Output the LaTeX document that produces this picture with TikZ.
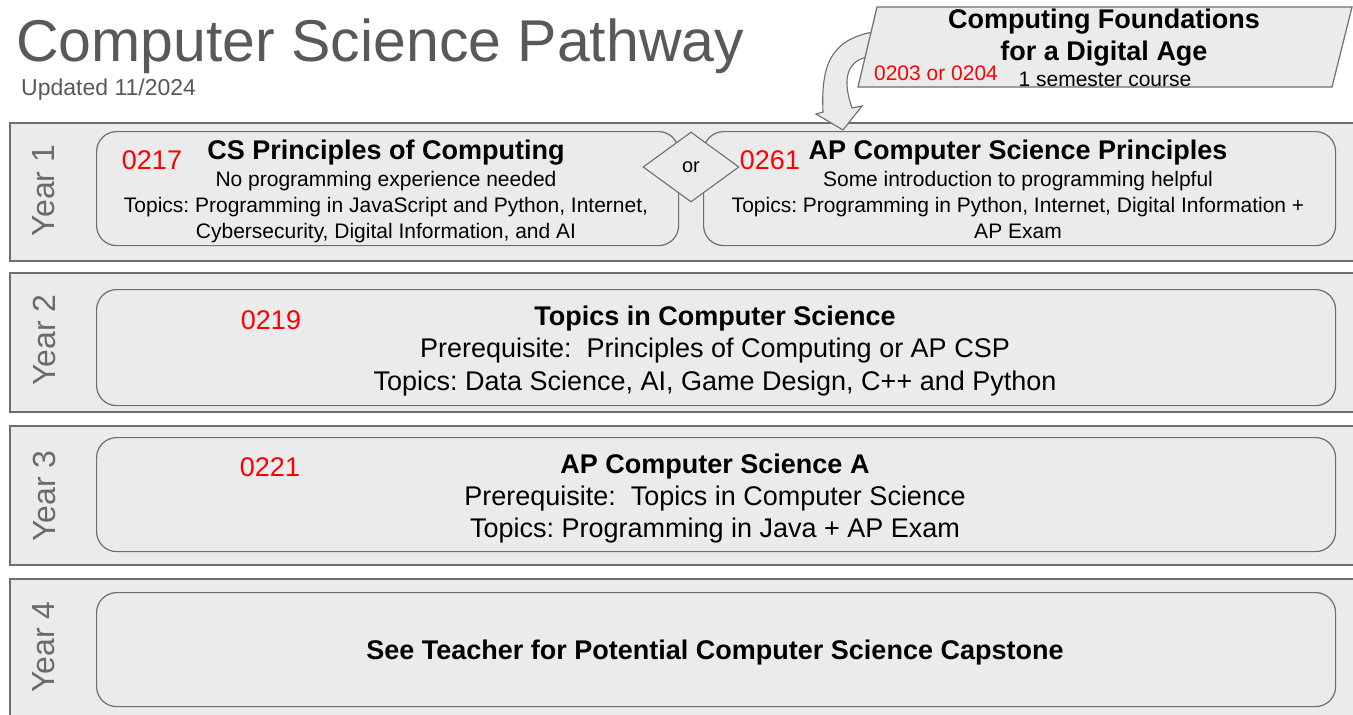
\documentclass[tikz,border=0pt]{standalone}
\usepackage{fontspec}
\setmainfont{Liberation Sans}
\usetikzlibrary{shapes.geometric}
\definecolor{boxfill}{HTML}{EBEBEB}
\definecolor{boxline}{HTML}{6E6E6E}
\definecolor{titlegrey}{HTML}{595959}
\definecolor{yeargrey}{HTML}{6A6A6A}
\definecolor{numred}{HTML}{FF0000}
\newcommand\fsz[1]{\fontsize{#1}{#1}\selectfont}
\frenchspacing
\begin{document}
\begin{tikzpicture}[x=1pt,y=-1pt,
  yearband/.style={draw=boxline,fill=boxfill,line width=1.6pt,anchor=north west,inner sep=0pt},
  coursebox/.style={draw=boxline,fill=boxfill,line width=1.2pt,rounded corners=20pt,anchor=north west,inner sep=0pt},
  txt/.style={inner sep=0pt,anchor=base,text=black},
  bigt/.style={txt,font=\fsz{27}\bfseries},
  bodyl/.style={txt,font=\fsz{27}},
  smallt/.style={txt,font=\fsz{21}},
  code/.style={txt,text=numred,font=\fsz{27}},
  yearlbl/.style={rotate=90,inner sep=0pt,text=yeargrey,font=\fsz{32}},
  blockarrow/.style={draw=boxline,fill=boxfill,line width=1.1pt,line join=miter}
]
\useasboundingbox (0,0) rectangle (1353,715);
\fill[white] (0,0) rectangle (1353,715);

% title
\node[inner sep=0pt,anchor=base west,text=titlegrey,font=\fsz{59}] (title) at (16,61) {Computer Science Pathway};
\node[inner sep=0pt,anchor=base west,text=titlegrey,font=\fsz{23}] (upd) at (21,95) {Updated 11/2024};

% year bands
\node[yearband,minimum width=1370pt,minimum height=138pt] (band1) at (9,122) {};
\node[yearband,minimum width=1370pt,minimum height=139pt] (band2) at (9,272) {};
\node[yearband,minimum width=1370pt,minimum height=139pt] (band3) at (9,425) {};
\node[yearband,minimum width=1370pt,minimum height=150pt] (band4) at (9,578) {};

\node[yearlbl] (yr1) at (44,190.5) {Year 1};
\node[yearlbl] (yr2) at (44,340) {Year 2};
\node[yearlbl] (yr3) at (44,496) {Year 3};
\node[yearlbl] (yr4) at (44,647) {Year 4};

% course boxes
\node[coursebox,minimum width=582pt,minimum height=114pt] (csp) at (96,131) {};
\node[coursebox,minimum width=632pt,minimum height=114pt] (apcsp) at (703,131) {};
\node[coursebox,minimum width=1239pt,minimum height=116pt] (topics) at (96,289) {};
\node[coursebox,minimum width=1239pt,minimum height=114pt] (apcsa) at (96,437) {};
\node[coursebox,minimum width=1239pt,minimum height=114pt] (capst) at (96,592) {};

% or diamond
\node[diamond,draw=boxline,fill=boxfill,line width=1.1pt,minimum width=96pt,minimum height=70pt,inner sep=0pt,font=\fsz{20}] (or) at (691,167) {or};

% Year 1 left
\node[code] (c217) at (152,169.5) {0217};
\node[bigt] (cspT) at (386,159.5) {CS Principles of Computing};
\node[smallt] (cspA) at (386,186.5) {No programming experience needed};
\node[smallt] (cspB) at (386,212.5) {Topics: Programming in JavaScript and Python, Internet,};
\node[smallt] (cspC) at (386,238.5) {Cybersecurity, Digital Information, and AI};

% Year 1 right
\node[code] (c261) at (770,169.5) {0261};
\node[bigt] (apT) at (1018,159.5) {AP Computer Science Principles};
\node[smallt] (apA) at (1018,186.5) {Some introduction to programming helpful};
\node[smallt] (apB) at (1018,212.5) {Topics: Programming in Python, Internet, Digital Information +};
\node[smallt] (apC) at (1018,238.5) {AP Exam};

% Year 2
\node[code] (c219) at (271,329.5) {0219};
\node[bigt] (topT) at (715,325.5) {Topics in Computer Science};
\node[bodyl] (topA) at (715,357.5) {Prerequisite:\ \ Principles of Computing or AP CSP};
\node[bodyl] (topB) at (715,390.5) {Topics: Data Science, AI, Game Design, C++ and Python};

% Year 3
\node[code] (c221) at (270,476.5) {0221};
\node[bigt] (csaT) at (715,473.5) {AP Computer Science A};
\node[bodyl] (csaA) at (715,505.5) {Prerequisite:\ \ Topics in Computer Science};
\node[bodyl] (csaB) at (715,537.5) {Topics: Programming in Java + AP Exam};

% Year 4
\node[bigt] (capT) at (715,659.5) {See Teacher for Potential Computer Science Capstone};

% curved block arrow from foundations course to AP CSP
\coordinate (arrS) at (873,32);
\coordinate (arrE) at (867,57);
\coordinate (arrTip) at (843,130);
\draw[blockarrow] (arrS) .. controls (830,40) and (821,66) .. (823,112)
  -- (816,114) -- (arrTip) -- (862,106) -- (852,108)
  .. controls (843,82) and (845,62) .. (arrE);

% parallelogram
\draw[draw=boxline,fill=boxfill,line width=1.2pt] (877,7) -- (1352,7) -- (1332,87) -- (858,87) -- cycle;
\node[bigt] (cfT) at (1104,28.5) {Computing Foundations};
\node[bigt] (cfA) at (1104,60.5) {for a Digital Age};
\node[txt,text=numred,font=\fsz{21}] (c203) at (936,80.5) {0203 or 0204};
\node[smallt] (cfB) at (1105,86.5) {1 semester course};
\end{tikzpicture}
\end{document}
